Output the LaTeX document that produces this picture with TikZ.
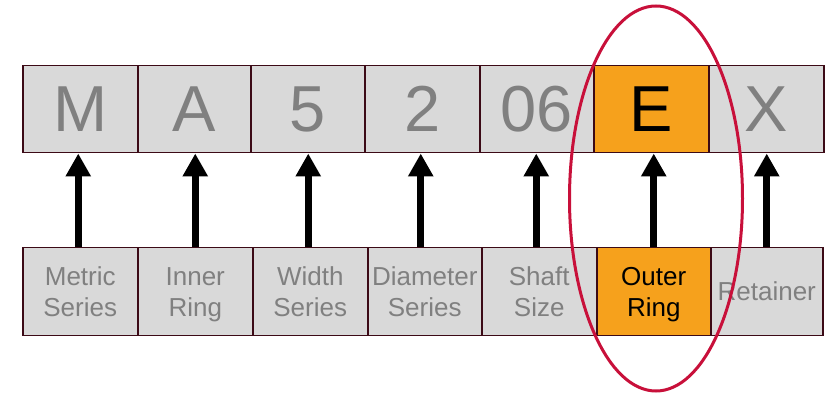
\documentclass[tikz,border=0pt]{standalone}
\usepackage{fontspec}
\setmainfont{Liberation Sans}
\usetikzlibrary{arrows.meta,shapes.geometric}
\definecolor{boxgray}{RGB}{217,217,217}
\definecolor{boxedge}{RGB}{60,10,22}
\definecolor{txtgray}{RGB}{128,128,128}
\definecolor{orng}{RGB}{246,161,28}
\definecolor{ringred}{RGB}{200,16,58}
\newcommand\lnstrut{\rule[-6.3pt]{0pt}{31pt}}
\tikzset{
  topbox/.style={draw=boxedge, line width=1.5pt, fill=boxgray, minimum height=87pt,
    inner sep=0pt, text=txtgray, font=\fontsize{65}{78}\selectfont, anchor=north west},
  botbox/.style={draw=boxedge, line width=1.5pt, fill=boxgray, minimum height=88pt,
    inner sep=0pt, text=txtgray, align=center, font=\fontsize{26}{31}\selectfont, anchor=north west},
  hl/.style={fill=orng, text=black},
  uparrow/.style={line width=7pt, -{Triangle[width=24pt,length=23pt]}}
}
\begin{document}
\begin{tikzpicture}[x=1pt,y=-1pt]
\useasboundingbox (0,0) rectangle (839,395);
% top row
\node[topbox, minimum width=115pt] (t1) at (22,65) {M};
\node[topbox, minimum width=113pt] (t2) at (137,65) {A};
\node[topbox, minimum width=114pt] (t3) at (250,65) {5};
\node[topbox, minimum width=115pt] (t4) at (364,65) {2};
\node[topbox, minimum width=114pt] (t5) at (479,65) {06};
\node[topbox, hl, minimum width=115pt] (t6) at (593,65) {E};
\node[topbox, minimum width=115pt] (t7) at (708,65) {X};
% bottom row
\node[botbox, minimum width=115pt] (b1) at (22,247) {Metric\lnstrut\\Series\lnstrut};
\node[botbox, minimum width=115pt] (b2) at (137,247) {Inner\lnstrut\\Ring\lnstrut};
\node[botbox, minimum width=115pt] (b3) at (252,247) {Width\lnstrut\\Series\lnstrut};
\node[botbox, minimum width=114pt] (b4) at (367,247) {Diameter\lnstrut\\Series\lnstrut};
\node[botbox, minimum width=115pt] (b5) at (481,247) {Shaft\lnstrut\\Size\lnstrut};
\node[botbox, hl, minimum width=114pt] (b6) at (596,247) {Outer\lnstrut\\Ring\lnstrut};
\node[botbox, minimum width=112pt] (b7) at (710,247) {Retainer\lnstrut};
% arrows
\draw[uparrow] ([xshift=-2pt]b1.north) -- ([xshift=-2pt]b1.north |- t1.south);
\draw[uparrow] (b2.north) -- (b2.north |- t2.south);
\draw[uparrow] ([xshift=-2pt]b3.north) -- ([xshift=-2pt]b3.north |- t3.south);
\draw[uparrow] ([xshift=-4pt]b4.north) -- ([xshift=-4pt]b4.north |- t4.south);
\draw[uparrow] ([xshift=-3pt]b5.north) -- ([xshift=-3pt]b5.north |- t5.south);
\draw[uparrow] (b6.north) -- (b6.north |- t6.south);
\draw[uparrow] (b7.north) -- (b7.north |- t7.south);
% highlight ring
\node[draw=ringred, line width=3pt, ellipse, minimum width=173pt, minimum height=385pt, inner sep=0pt] (ring) at (656,198.5) {};
\end{tikzpicture}
\end{document}
